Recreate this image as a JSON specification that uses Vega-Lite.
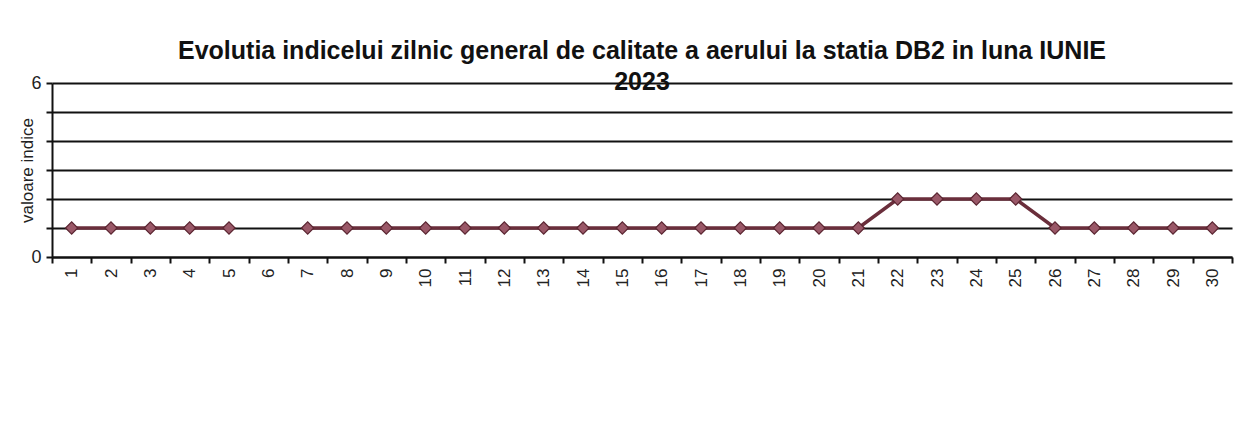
{
  "$schema": "https://vega.github.io/schema/vega-lite/v6.json",
  "autosize": {"type": "none"},
  "padding": {"left": 52, "top": 83, "right": 21, "bottom": 173},
  "width": 1180,
  "height": 174,
  "background": "white",
  "title": {
    "text": ["Evolutia indicelui zilnic general de calitate a aerului la statia DB2  in luna IUNIE", "2023"],
    "font": "Liberation Sans",
    "fontSize": 25,
    "fontWeight": "bold",
    "color": "#111111",
    "anchor": "middle",
    "lineHeight": 31,
    "offset": -21
  },
  "data": {
    "values": [
      {"zi": "1", "valoare": 1}, {"zi": "2", "valoare": 1}, {"zi": "3", "valoare": 1},
      {"zi": "4", "valoare": 1}, {"zi": "5", "valoare": 1}, {"zi": "6", "valoare": null},
      {"zi": "7", "valoare": 1}, {"zi": "8", "valoare": 1}, {"zi": "9", "valoare": 1},
      {"zi": "10", "valoare": 1}, {"zi": "11", "valoare": 1}, {"zi": "12", "valoare": 1},
      {"zi": "13", "valoare": 1}, {"zi": "14", "valoare": 1}, {"zi": "15", "valoare": 1},
      {"zi": "16", "valoare": 1}, {"zi": "17", "valoare": 1}, {"zi": "18", "valoare": 1},
      {"zi": "19", "valoare": 1}, {"zi": "20", "valoare": 1}, {"zi": "21", "valoare": 1},
      {"zi": "22", "valoare": 2}, {"zi": "23", "valoare": 2}, {"zi": "24", "valoare": 2},
      {"zi": "25", "valoare": 2}, {"zi": "26", "valoare": 1}, {"zi": "27", "valoare": 1},
      {"zi": "28", "valoare": 1}, {"zi": "29", "valoare": 1}, {"zi": "30", "valoare": 1}
    ]
  },
  "encoding": {
    "x": {
      "field": "zi",
      "type": "ordinal",
      "sort": null,
      "scale": {"paddingInner": 0, "paddingOuter": 0},
      "axis": {
        "title": null,
        "labelAngle": -90,
        "labelAlign": "right",
        "labelBaseline": "middle",
        "labelFont": "Liberation Sans",
        "labelFontSize": 17,
        "labelColor": "#222222",
        "labelPadding": 5,
        "tickBand": "extent",
        "tickColor": "#111111",
        "tickWidth": 2,
        "tickSize": 6,
        "domainColor": "#111111",
        "domainWidth": 2,
        "grid": false
      }
    },
    "y": {
      "field": "valoare",
      "type": "quantitative",
      "scale": {"domain": [0, 6], "nice": false},
      "axis": {
        "title": "valoare indice",
        "titleFont": "Liberation Sans",
        "titleFontSize": 17,
        "titleFontWeight": "normal",
        "titleColor": "#222222",
        "titlePadding": -6,
        "values": [0, 1, 2, 3, 4, 5, 6],
        "labelExpr": "datum.value == 0 || datum.value == 6 ? datum.label : ''",
        "labelFont": "Liberation Sans",
        "labelFontSize": 18,
        "labelColor": "#222222",
        "labelPadding": 5,
        "tickColor": "#111111",
        "tickWidth": 2,
        "tickSize": 6,
        "domainColor": "#111111",
        "domainWidth": 2,
        "grid": true,
        "gridColor": "#111111",
        "gridWidth": 2
      }
    }
  },
  "layer": [
    {
      "mark": {"type": "line", "color": "#6a2e3b", "strokeWidth": 3.5, "invalid": "break-paths-show-domains"}
    },
    {
      "mark": {"type": "point", "shape": "diamond", "filled": true, "size": 150, "fill": "#9a5868", "stroke": "#5a2430", "strokeWidth": 1.2, "opacity": 1}
    }
  ],
  "config": {
    "view": {"stroke": null}
  }
}
